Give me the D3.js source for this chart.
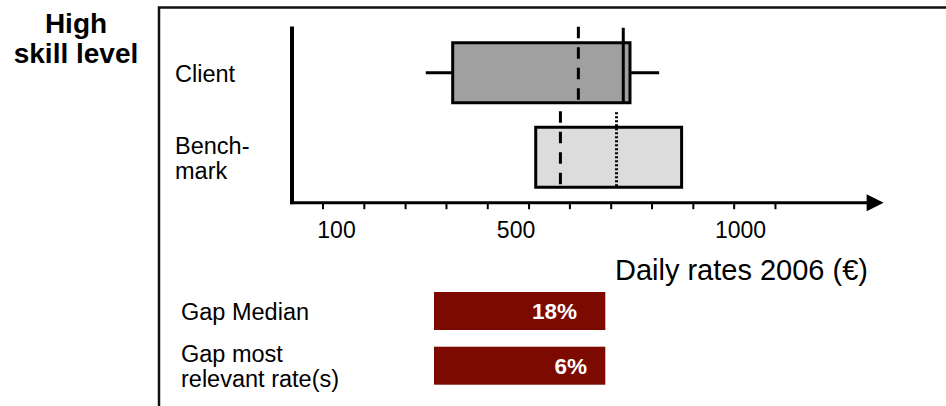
<!DOCTYPE html>
<html>
<head>
<meta charset="utf-8">
<script src="https://cdn.jsdelivr.net/npm/d3@7"></script>
<style>
  body { margin: 0; background: #fff; }
  svg { display: block; }
  text { font-family: "Liberation Sans", Arial, sans-serif; fill: #000; }
</style>
</head>
<body>
<svg id="chart" width="946" height="406"></svg>
<script>
// Daily rate distributions, high skill level (EUR per day)
const groups = ["Client", "Benchmark"];
const groupLabels = [["Client"], ["Bench-", "mark"]];
const whiskerLow = [300, null];
const quartileLow = [360, 545];
const medianRate = [640, 600];
const relevantRate = [740, 725];
const quartileHigh = [755, 870];
const whiskerHigh = [820, null];

// Axis
const axisMax = 1320;
const tickLabels = [100, 500, 1000];
const minorTicks = [70, 162, 254, 345, 437, 529, 620, 712, 803, 895, 986, 1078];
const axisTitle = "Daily rates 2006 (€)";

// Gaps between client and benchmark (%)
const gapLabels = [["Gap Median"], ["Gap most", "relevant rate(s)"]];
const gapValues = [18, 6];

const svg = d3.select("#chart");
const boxFill = ["#a0a0a0", "#dcdcdc"];
const relevantDash = [null, "2,2"];

// Frame around the panel
svg.append("path")
  .attr("d", "M946,7.5H159V406")
  .attr("fill", "none").attr("stroke", "#111").attr("stroke-width", 2.5);

// Panel heading
svg.append("text")
  .attr("text-anchor", "middle")
  .attr("font-weight", "bold").attr("font-size", 28)
  .selectAll("tspan").data(["High", "skill level"]).join("tspan")
  .attr("x", 76).attr("y", (d, i) => 33 + i * 30).text(d => d);

const x = d3.scaleLinear().domain([0, axisMax]).range([291.1, 883.6]);
const y = d3.scaleBand().domain(groups).range([30.5, 199.5])
  .paddingInner(0.29).paddingOuter(0.145);
const axisY = 202.7;

// Boxes
const boxes = svg.append("g").selectAll("g").data(groups).join("g");

boxes.filter((d, i) => whiskerLow[i] != null).append("line")
  .attr("x1", (d, i) => x(whiskerLow[i])).attr("x2", (d, i) => x(whiskerHigh[i]))
  .attr("y1", d => y(d) + y.bandwidth() / 2).attr("y2", d => y(d) + y.bandwidth() / 2)
  .attr("stroke", "#000").attr("stroke-width", 3);

boxes.append("rect")
  .attr("x", (d, i) => x(quartileLow[i]))
  .attr("width", (d, i) => x(quartileHigh[i]) - x(quartileLow[i]))
  .attr("y", d => y(d)).attr("height", y.bandwidth())
  .attr("fill", (d, i) => boxFill[i])
  .attr("stroke", "#000").attr("stroke-width", 3);

// Median (dashed)
boxes.append("line")
  .attr("x1", (d, i) => x(medianRate[i])).attr("x2", (d, i) => x(medianRate[i]))
  .attr("y1", d => y(d) - 16).attr("y2", d => y(d) + y.bandwidth())
  .attr("stroke", "#000").attr("stroke-width", 3)
  .attr("stroke-dasharray", "11.5,9");

// Most relevant rate
boxes.append("line")
  .attr("x1", (d, i) => x(relevantRate[i])).attr("x2", (d, i) => x(relevantRate[i]))
  .attr("y1", d => y(d) - 15).attr("y2", d => y(d) + y.bandwidth())
  .attr("stroke", "#000").attr("stroke-width", 3)
  .attr("stroke-dasharray", (d, i) => relevantDash[i]);

// Group labels
svg.append("g").selectAll("text").data(groups).join("text")
  .attr("font-size", 23.5)
  .each(function (d, i) {
    const lines = groupLabels[i];
    const cy = y(d) + y.bandwidth() / 2;
    d3.select(this).selectAll("tspan").data(lines).join("tspan")
      .attr("x", 175)
      .attr("y", (t, j) => cy + 9.5 + (j - (lines.length - 1) / 2) * 25)
      .text(t => t);
  });

// Axes
svg.append("line")
  .attr("x1", 292).attr("x2", 292).attr("y1", 26.5).attr("y2", axisY + 1.5)
  .attr("stroke", "#000").attr("stroke-width", 4);
svg.append("line")
  .attr("x1", 290).attr("x2", x(axisMax) - 16).attr("y1", axisY).attr("y2", axisY)
  .attr("stroke", "#000").attr("stroke-width", 3);
svg.append("path")
  .attr("d", `M${x(axisMax)},${axisY}L${x(axisMax) - 17},${axisY - 8.5}L${x(axisMax) - 17},${axisY + 8.5}Z`)
  .attr("fill", "#000");

const minorAxis = svg.append("g").attr("transform", `translate(0,${axisY})`)
  .call(d3.axisBottom(x).tickValues(minorTicks).tickSize(6.5).tickFormat(""));
minorAxis.select(".domain").remove();
minorAxis.selectAll(".tick line").attr("stroke", "#000").attr("stroke-width", 2);

const labelAxis = svg.append("g").attr("transform", `translate(0,${axisY})`)
  .call(d3.axisBottom(x).tickValues(tickLabels).tickSize(0).tickPadding(18.5).tickFormat(d3.format("d")));
labelAxis.select(".domain").remove();
labelAxis.selectAll("text")
  .attr("font-family", "'Liberation Sans', Arial, sans-serif")
  .attr("font-size", 23).attr("fill", "#000");

svg.append("text")
  .attr("x", 868).attr("y", 280).attr("text-anchor", "end")
  .attr("font-size", 29).text(axisTitle);

// Gap tags
const gy = d3.scaleBand().domain(gapValues.map((d, i) => i)).range([292, 384.7]).paddingInner(0.305);
const tagTextX = [577, 587];
const tags = svg.append("g").selectAll("g").data(gapValues).join("g");
tags.append("rect")
  .attr("x", 434).attr("width", 171.3)
  .attr("y", (d, i) => gy(i)).attr("height", gy.bandwidth())
  .attr("fill", "#7d0a00");
tags.append("text")
  .attr("x", (d, i) => tagTextX[i])
  .attr("y", (d, i) => gy(i) + gy.bandwidth() / 2 + 8)
  .attr("text-anchor", "end")
  .attr("font-weight", "bold").attr("font-size", 22.5)
  .style("fill", "#fff")
  .text(d => d + "%");
tags.append("text")
  .attr("font-size", 23.5)
  .each(function (d, i) {
    const lines = gapLabels[i];
    const cy = gy(i) + gy.bandwidth() / 2;
    d3.select(this).selectAll("tspan").data(lines).join("tspan")
      .attr("x", 181)
      .attr("y", (t, j) => cy + 9 + (j - (lines.length - 1) / 2) * 24.5)
      .text(t => t);
  });
</script>
</body>
</html>
